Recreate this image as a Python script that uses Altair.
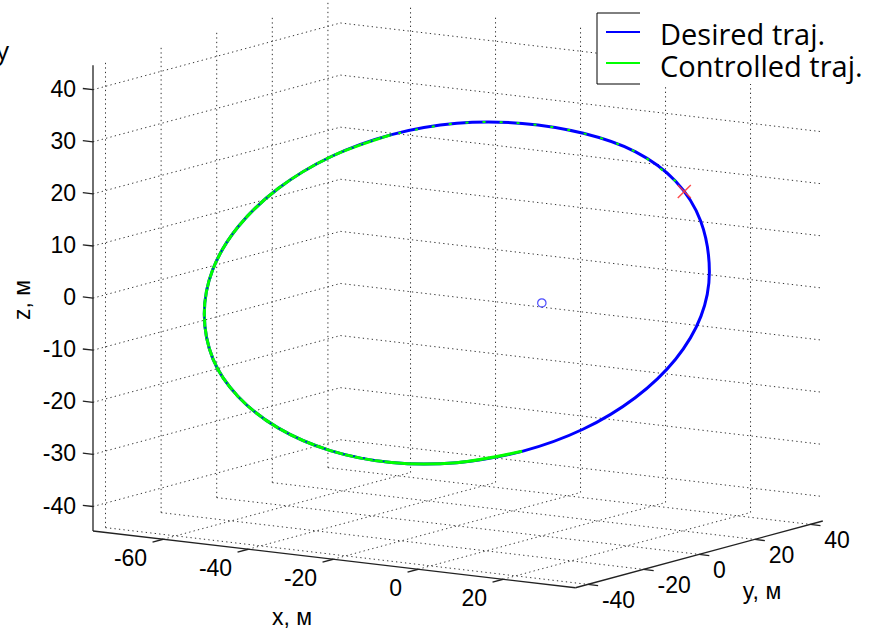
import altair as alt
import pandas as pd

# ---------------- data ----------------
# 3D axis limits
XLIM = [-76.5, 37.0]
YLIM = [-44.5, 44.5]
ZLIM = [-44.7, 44.7]
x_ticks = [-60, -40, -20, 0, 20]
y_ticks = [-40, -20, 0, 20, 40]
z_ticks = [-40, -30, -20, -10, 0, 10, 20, 30, 40]

# trajectory points (x, y, z in metres)
traj_x = [19.8, 22.3, 22.0, 18.8, 12.9, 4.8, -5.0, -15.8, -26.9, -37.5, -47.0, -54.6,
          -59.8, -62.3, -62.0, -58.8, -52.9, -44.8, -35.0, -24.2, -13.1, -2.5, 7.0, 14.6]
traj_y = [30.0, 23.0, 14.5, 5.0, -4.8, -14.4, -22.9, -29.9, -34.8, -37.4, -37.4, -34.9,
          -30.0, -23.0, -14.5, -5.0, 4.8, 14.4, 22.9, 29.9, 34.8, 37.4, 37.4, 34.9]
traj_z = [3.6, 14.6, 23.4, 30.1, 34.5, 37.0, 37.3, 35.1, 30.5, 23.8, 15.5, 6.2,
          -3.6, -13.5, -21.8, -28.9, -34.1, -37.0, -37.3, -35.1, -30.5, -23.8, -15.5, -6.2]
# part of the controlled trajectory that shows on top (green)
ctrl_first, ctrl_last = 7, 19
# stretches where the two overlapping lines are mixed
mix_blue = (7, 17)     # blue specks over green
mix_green = (2, 7)     # green specks over blue

start_point = [22.4, 17.0, 21.1]   # red x
center_point = [0.0, 0.0, 0.0]     # blue o

series_names = ["Desired traj.", "Controlled traj."]
series_colors = ["#0000ff", "#00ff00"]
axis_titles = ["x, м", "y, м", "z, м"]

# ---------------- view / projection ----------------
W, H = 873, 629
ORIGIN = (93.0, 531.0)     # screen position of (xmin, ymin, zmin)
EX = (4.25, 0.5)           # screen shift per unit of x
EY = (2.78, -0.75)         # per unit of y
EZ = (0.0, -5.21)          # per unit of z


def proj(x, y, z):
    dx, dy, dz = x - XLIM[0], y - YLIM[0], z - ZLIM[0]
    return (ORIGIN[0] + EX[0] * dx + EY[0] * dy + EZ[0] * dz,
            ORIGIN[1] + EX[1] * dx + EY[1] * dy + EZ[1] * dz)


def seg(p, q):
    a = proj(*p)
    b = proj(*q)
    return {"X1": a[0], "Y1": a[1], "X2": b[0], "Y2": b[1]}


xs = alt.Scale(domain=[0, W], nice=False, zero=False)
ys = alt.Scale(domain=[0, H], reverse=True, nice=False, zero=False)


def enc_seg():
    return dict(x=alt.X("X1:Q", scale=xs, axis=None),
                y=alt.Y("Y1:Q", scale=ys, axis=None),
                x2="X2:Q", y2="Y2:Q")


x0, x1 = XLIM
y0, y1 = YLIM
z0, z1 = ZLIM

# grid lines on back walls and floor
grid = []
for yv in y_ticks:            # left wall verticals
    grid.append(seg((x0, yv, z0), (x0, yv, z1)))
for zv in z_ticks:            # left wall horizontals
    grid.append(seg((x0, y0, zv), (x0, y1, zv)))
for xv in x_ticks:            # back wall verticals
    grid.append(seg((xv, y1, z0), (xv, y1, z1)))
for zv in z_ticks:            # back wall horizontals
    grid.append(seg((x0, y1, zv), (x1, y1, zv)))
for xv in x_ticks:            # floor lines
    grid.append(seg((xv, y0, z0), (xv, y1, z0)))
for yv in y_ticks:
    grid.append(seg((x0, yv, z0), (x1, yv, z0)))
grid_df = pd.DataFrame(grid)

axes_df = pd.DataFrame([
    seg((x0, y0, z0), (x0, y0, z1)),
    seg((x0, y0, z0), (x1, y0, z0)),
    seg((x1, y0, z0), (x1, y1, z0)),
])

ticks = []
for zv in z_ticks:
    ticks.append(seg((x0, y0, zv), (x0 - 2.4, y0, zv)))
for xv in x_ticks:
    ticks.append(seg((xv, y0, z0), (xv, y0 - 3.8, z0)))
for yv in y_ticks:
    ticks.append(seg((x1, yv, z0), (x1 + 2.4, yv, z0)))
ticks_df = pd.DataFrame(ticks)


def labels(vals, pt):
    rows = []
    for v in vals:
        X, Y = proj(*pt(v))
        rows.append({"X": X, "Y": Y, "label": str(v)})
    return pd.DataFrame(rows)


zlab = labels(z_ticks, lambda v: (x0, y0, v))
xlab = labels(x_ticks, lambda v: (v, y0, z0))
ylab = labels(y_ticks, lambda v: (x1, v, z0))

pts = [proj(a, b, c) for a, b, c in zip(traj_x, traj_y, traj_z)]
traj_df = pd.DataFrame({"X": [p[0] for p in pts], "Y": [p[1] for p in pts],
                        "i": list(range(len(pts)))})


def part(lo, hi):
    return traj_df[(traj_df.i >= lo) & (traj_df.i <= hi)]


ctrl_df = part(ctrl_first, ctrl_last)
mixb_df = part(*mix_blue)
mixg_df = part(*mix_green)

sp = proj(*start_point)
cp = proj(*center_point)
start_df = pd.DataFrame({"X": [sp[0]], "Y": [sp[1]]})
center_df = pd.DataFrame({"X": [cp[0]], "Y": [cp[1]]})

# ---------------- chart ----------------
FONT = "Liberation Sans"
LFONT = "Open Sans"

grid_layer = alt.Chart(grid_df).mark_rule(color="#333333", strokeWidth=1,
                                          strokeDash=[1.3, 3.2]).encode(**enc_seg())
axes_layer = alt.Chart(axes_df).mark_rule(color="#222222", strokeWidth=1.3).encode(**enc_seg())
ticks_layer = alt.Chart(ticks_df).mark_rule(color="#222222", strokeWidth=1.3).encode(**enc_seg())


def txt(df, **kw):
    return alt.Chart(df).mark_text(font=FONT, fontSize=23, color="black", **kw).encode(
        x=alt.X("X:Q", scale=xs, axis=None), y=alt.Y("Y:Q", scale=ys, axis=None),
        text="label:N")


zlab_layer = txt(zlab, align="right", baseline="middle", dx=-17)
xlab_layer = txt(xlab, align="right", baseline="top", dx=-16, dy=9)
ylab_layer = txt(ylab, align="left", baseline="top", dx=14, dy=6)

titles_df = pd.DataFrame({"X": [292, 762], "Y": [618, 592], "label": axis_titles[:2]})
titles_layer = txt(titles_df, align="center", baseline="middle")
ztitle_df = pd.DataFrame({"X": [23], "Y": [300], "label": [axis_titles[2]]})
ztitle_layer = txt(ztitle_df, align="center", baseline="middle", angle=270)

pos = dict(x=alt.X("X:Q", scale=xs, axis=None), y=alt.Y("Y:Q", scale=ys, axis=None))
desired_layer = alt.Chart(traj_df).mark_line(color=series_colors[0], strokeWidth=3,
                                             interpolate="cardinal-closed").encode(
    order="i:Q", **pos)
ctrl_layer = alt.Chart(ctrl_df).mark_line(color=series_colors[1], strokeWidth=3,
                                          interpolate="cardinal").encode(order="i:Q", **pos)
mixb_layer = alt.Chart(mixb_df).mark_line(color=series_colors[0], strokeWidth=1.4,
                                          strokeDash=[2, 8],
                                          interpolate="cardinal").encode(order="i:Q", **pos)
mixg_layer = alt.Chart(mixg_df).mark_line(color=series_colors[1], strokeWidth=2,
                                          strokeDash=[3, 14],
                                          interpolate="cardinal").encode(order="i:Q", **pos)

start_layer = alt.Chart(start_df).mark_point(
    shape="M-1,-1L1,1M-1,1L1,-1", size=170, filled=False, color="#ff3b3b",
    strokeWidth=1.5, opacity=0.9).encode(**pos)
center_layer = alt.Chart(center_df).mark_point(
    shape="circle", size=70, filled=False, color="#0000ff", strokeWidth=1.2).encode(**pos)

# legend (box and entries)
one = pd.DataFrame({"k": [0]})
leg_bg = alt.Chart(one).mark_rect(color="white").encode(
    x=alt.value(597), x2=alt.value(873), y=alt.value(13), y2=alt.value(84))
leg_left = alt.Chart(one).mark_rule(color="black", strokeWidth=1).encode(
    x=alt.value(597), y=alt.value(13), y2=alt.value(84))
leg_top = alt.Chart(one).mark_rule(color="black", strokeWidth=1).encode(
    x=alt.value(597), x2=alt.value(640), y=alt.value(13))
leg_bot = alt.Chart(one).mark_rule(color="black", strokeWidth=1).encode(
    x=alt.value(597), x2=alt.value(640), y=alt.value(84))
leg_l1 = alt.Chart(one).mark_rule(color=series_colors[0], strokeWidth=2).encode(
    x=alt.value(606), x2=alt.value(640), y=alt.value(32))
leg_l2 = alt.Chart(one).mark_rule(color=series_colors[1], strokeWidth=2).encode(
    x=alt.value(606), x2=alt.value(640), y=alt.value(63))
leg_t1 = alt.Chart(one).mark_text(font=LFONT, fontSize=29, align="left",
                                  baseline="alphabetic", color="black").encode(
    x=alt.value(660), y=alt.value(45), text=alt.value(series_names[0]))
leg_t2 = alt.Chart(one).mark_text(font=LFONT, fontSize=29, align="left",
                                  baseline="alphabetic", color="black").encode(
    x=alt.value(660), y=alt.value(77), text=alt.value(series_names[1]))
stray = alt.Chart(one).mark_text(font=LFONT, fontSize=26, align="right",
                                 baseline="alphabetic", color="black").encode(
    x=alt.value(9), y=alt.value(60), text=alt.value("y"))

chart = alt.layer(
    grid_layer, axes_layer, ticks_layer,
    zlab_layer, xlab_layer, ylab_layer, titles_layer, ztitle_layer,
    desired_layer, ctrl_layer, mixb_layer, mixg_layer, start_layer, center_layer,
    leg_bg, leg_left, leg_top, leg_bot, leg_l1, leg_l2, leg_t1, leg_t2, stray,
).properties(
    width=W, height=H, padding=0,
    autosize=alt.AutoSizeParams(type="none"),
    background="white",
).configure_view(stroke=None)

chart.save("out.html", embed_options={"renderer": "svg", "actions": False})
